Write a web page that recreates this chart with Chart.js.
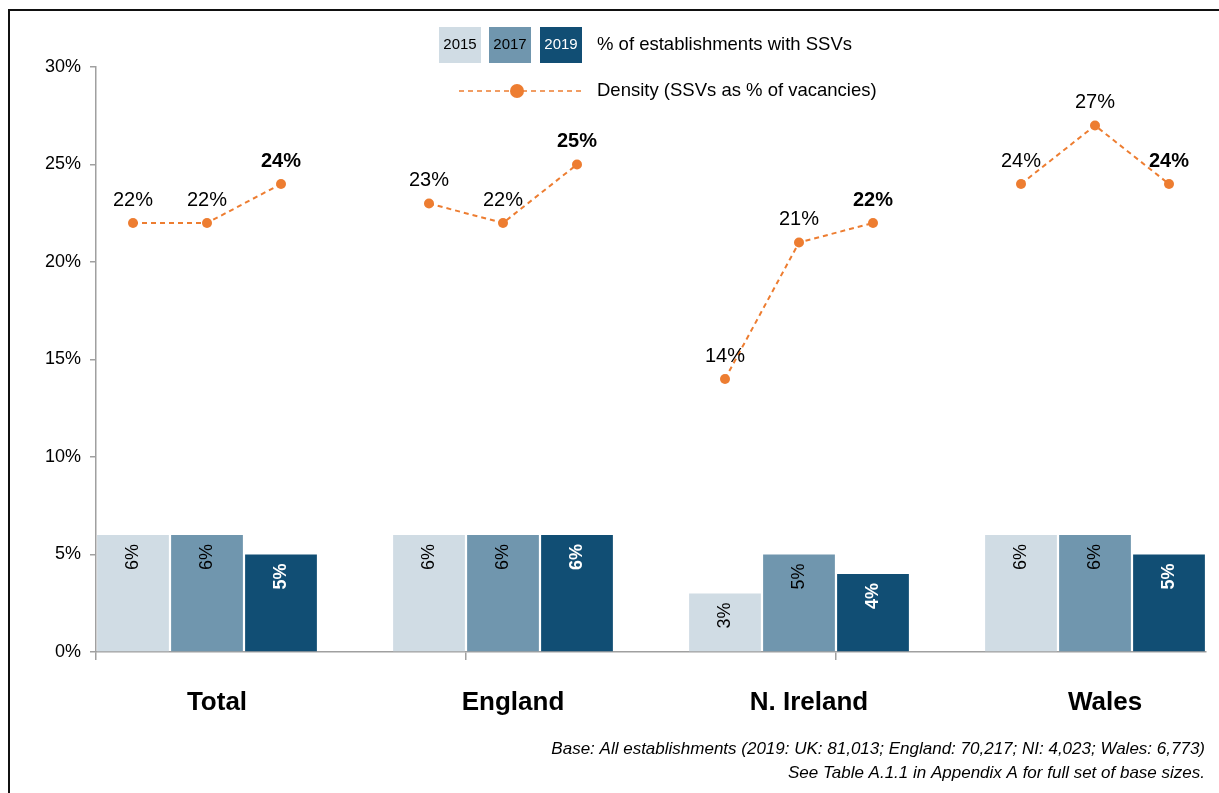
<!DOCTYPE html>
<html>
<head>
<meta charset="utf-8">
<script src="https://cdn.jsdelivr.net/npm/chart.js@4/dist/chart.umd.min.js"></script>
<style>
  html, body { margin: 0; padding: 0; background: #fff; }
  canvas { display: block; }
</style>
</head>
<body>
<canvas id="c" width="1219" height="793"></canvas>
<script>
// ---- data ----
const categories = ['Total', 'England', 'N. Ireland', 'Wales'];
const years = ['2015', '2017', '2019'];
const ssv2015 = [6, 6, 3, 6];
const ssv2017 = [6, 6, 5, 6];
const ssv2019 = [5, 6, 4, 5];
const density2015 = [22, 23, 14, 24];
const density2017 = [22, 22, 21, 27];
const density2019 = [24, 25, 22, 24];
const yTicks = [0, 5, 10, 15, 20, 25, 30];
const barLegendLabel = '% of establishments with SSVs';
const lineLegendLabel = 'Density (SSVs as % of vacancies)';
const footnotes = [
  'Base: All establishments (2019: UK: 81,013; England: 70,217; NI: 4,023; Wales: 6,773)',
  'See Table A.1.1 in Appendix A for full set of base sizes.'
];

// ---- styles ----
const yearColors = ['#D0DCE4', '#7096AE', '#114E74'];
const yearLabelColors = ['#000', '#000', '#fff'];
const orange = '#ED7D31';
const FONT = '"Liberation Sans", Arial, sans-serif';

// ---- build slot arrays (3 bars + 1 gap per category) ----
const ssvByYear = [ssv2015, ssv2017, ssv2019];
const densByYear = [density2015, density2017, density2019];
const slotLabels = [], barData = [], barColors = [], lineData = [], slotYear = [];
categories.forEach((cat, ci) => {
  years.forEach((y, yi) => {
    slotLabels.push(yi === 1 ? cat : '');
    barData.push(ssvByYear[yi][ci]);
    barColors.push(yearColors[yi]);
    lineData.push(densByYear[yi][ci]);
    slotYear.push(yi);
  });
  if (ci < categories.length - 1) {
    slotLabels.push('');
    barData.push(null);
    barColors.push('rgba(0,0,0,0)');
    lineData.push(null);
    slotYear.push(-1);
  }
});

const decorPlugin = {
  id: 'decor',
  afterDatasetsDraw(chart) {
    const ctx = chart.ctx;
    ctx.save();
    // bar labels (rotated)
    const barMeta = chart.getDatasetMeta(1);
    barMeta.data.forEach((el, i) => {
      const v = barData[i];
      if (v == null) return;
      const yi = slotYear[i];
      ctx.save();
      ctx.translate(el.x, el.y + 9);
      ctx.rotate(-Math.PI / 2);
      ctx.fillStyle = yearLabelColors[yi];
      ctx.font = (yi === 2 ? 'bold ' : '') + '18px ' + FONT;
      ctx.textAlign = 'right';
      ctx.textBaseline = 'middle';
      ctx.fillText(v + '%', 0, 0);
      ctx.restore();
    });
    // line labels
    const lineMeta = chart.getDatasetMeta(0);
    lineMeta.data.forEach((el, i) => {
      const v = lineData[i];
      if (v == null) return;
      const yi = slotYear[i];
      ctx.fillStyle = '#000';
      ctx.font = (yi === 2 ? 'bold ' : '') + '20px ' + FONT;
      ctx.textAlign = 'center';
      ctx.textBaseline = 'middle';
      ctx.fillText(v + '%', el.x, el.y - 23);
    });
    ctx.restore();
  },
  afterDraw(chart) {
    const ctx = chart.ctx;
    ctx.save();
    // frame
    ctx.strokeStyle = '#111';
    ctx.lineWidth = 2;
    ctx.beginPath();
    ctx.moveTo(9, 793);
    ctx.lineTo(9, 10);
    ctx.lineTo(1219, 10);
    ctx.stroke();
    // legend boxes
    const boxX = [439, 489, 540];
    years.forEach((y, i) => {
      ctx.fillStyle = yearColors[i];
      ctx.fillRect(boxX[i], 27, 42, 36);
      ctx.fillStyle = yearLabelColors[i];
      ctx.font = '15px ' + FONT;
      ctx.textAlign = 'center';
      ctx.textBaseline = 'middle';
      ctx.fillText(y, boxX[i] + 21, 45);
    });
    ctx.fillStyle = '#000';
    ctx.font = '18.5px ' + FONT;
    ctx.textAlign = 'left';
    ctx.textBaseline = 'middle';
    ctx.fillText(barLegendLabel, 597, 45);
    // line legend
    ctx.strokeStyle = orange;
    ctx.lineWidth = 1.5;
    ctx.setLineDash([5, 4]);
    ctx.beginPath();
    ctx.moveTo(459, 91);
    ctx.lineTo(581, 91);
    ctx.stroke();
    ctx.setLineDash([]);
    ctx.fillStyle = orange;
    ctx.beginPath();
    ctx.arc(517, 91, 7, 0, Math.PI * 2);
    ctx.fill();
    ctx.fillStyle = '#000';
    ctx.fillText(lineLegendLabel, 597, 91);
    // footnotes
    ctx.font = 'italic 17px ' + FONT;
    ctx.textAlign = 'right';
    ctx.fillText(footnotes[0], 1205, 749);
    ctx.fillText(footnotes[1], 1205, 773);
    ctx.restore();
  }
};

new Chart(document.getElementById('c'), {
  data: {
    labels: slotLabels,
    datasets: [
      {
        type: 'line',
        label: lineLegendLabel,
        data: lineData,
        borderColor: orange,
        borderWidth: 2,
        borderDash: [5, 4],
        pointRadius: 5,
        pointBackgroundColor: orange,
        pointBorderWidth: 0,
        spanGaps: false,
        tension: 0,
        order: 0
      },
      {
        type: 'bar',
        label: barLegendLabel,
        data: barData,
        backgroundColor: barColors,
        barPercentage: 0.97,
        categoryPercentage: 1,
        order: 1
      }
    ]
  },
  options: {
    responsive: false,
    animation: false,
    devicePixelRatio: 1,
    layout: { padding: { left: 0, right: 13, top: 67, bottom: 0 } },
    plugins: { legend: { display: false }, tooltip: { enabled: false } },
    scales: {
      x: {
        type: 'category',
        offset: true,
        grid: {
          display: true,
          offset: true,
          drawOnChartArea: false,
          tickLength: 8,
          color: (c) => (c.index % 5 === 0 ? '#A0A0A0' : 'rgba(0,0,0,0)'),
          lineWidth: 1.5
        },
        border: { color: '#A0A0A0', width: 1.5 },
        ticks: {
          autoSkip: false,
          maxRotation: 0,
          minRotation: 0,
          padding: 27,
          labelOffset: 10,
          color: '#000',
          font: { family: FONT, size: 26, weight: 'bold' }
        },
        afterFit: (s) => { s.height = 141; }
      },
      y: {
        min: 0,
        max: 30,
        afterBuildTicks: (s) => { s.ticks = yTicks.map(v => ({ value: v })); },
        grid: { drawOnChartArea: false, tickLength: 6, color: '#A0A0A0', lineWidth: 1.5 },
        border: { color: '#A0A0A0', width: 1.5 },
        ticks: {
          padding: 9,
          color: '#000',
          font: { family: FONT, size: 18 },
          callback: (v) => v + '%'
        },
        afterFit: (s) => { s.width = 96; }
      }
    }
  },
  plugins: [decorPlugin]
});
</script>
</body>
</html>
